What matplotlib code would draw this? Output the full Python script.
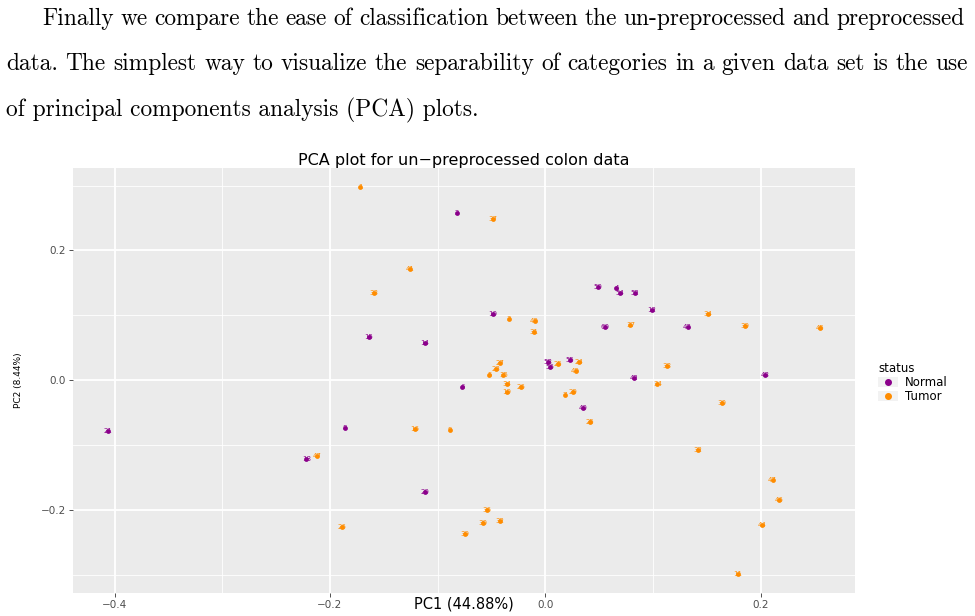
import matplotlib
matplotlib.use("Agg")
import matplotlib.pyplot as plt
from matplotlib.lines import Line2D
from matplotlib.patches import Patch

# PCA scores (PC1, PC2) with sample ids
normal_pc1 = [-0.082, -0.049, 0.049, 0.066, 0.069, 0.083, 0.099, 0.055, 0.132, -0.164,
              -0.112, 0.002, 0.023, 0.004, 0.082, 0.204, -0.077, 0.035, -0.406, -0.186,
              -0.222, -0.112]
normal_pc2 = [0.258, 0.102, 0.143, 0.142, 0.134, 0.134, 0.108, 0.082, 0.082, 0.066,
              0.058, 0.028, 0.031, 0.020, 0.003, 0.008, -0.011, -0.043, -0.078, -0.074,
              -0.122, -0.172]
normal_ids = ["2", "10", "50", "4", "54", "52", "12", "60", "43", "15",
              "14", "58", "55", "56", "42", "48", "6", "40", "21", "8",
              "18", "20"]

tumor_pc1 = [-0.172, -0.049, -0.126, -0.159, -0.034, -0.010, -0.011, 0.079, 0.151, 0.185,
             0.255, -0.042, 0.012, 0.031, -0.046, 0.028, 0.113, -0.052, -0.039, -0.036,
             -0.023, -0.036, 0.104, 0.026, 0.018, 0.164, 0.041, -0.121, -0.089, -0.212,
             0.142, 0.211, 0.217, 0.201, -0.054, -0.058, -0.042, -0.075, -0.189, 0.179]
tumor_pc2 = [0.297, 0.249, 0.171, 0.134, 0.095, 0.092, 0.074, 0.085, 0.102, 0.083,
             0.080, 0.026, 0.025, 0.028, 0.017, 0.015, 0.022, 0.008, 0.008, -0.006,
             -0.011, -0.018, -0.005, -0.018, -0.023, -0.035, -0.065, -0.075, -0.077, -0.117,
             -0.108, -0.154, -0.185, -0.223, -0.200, -0.220, -0.217, -0.237, -0.226, -0.298]
tumor_ids = ["1", "37", "41", "33", "3", "49", "31", "37", "34", "39",
             "45", "27", "25", "24", "23", "49", "38", "5", "35", "34",
             "26", "19", "34", "29", "7", "30", "25", "16", "9", "47",
             "32", "47", "46", "44", "36", "30", "32", "39", "26", "11"]

paragraph = [
    "Finally we compare the ease of classification between the un-preprocessed and preprocessed",
    "data. The simplest way to visualize the separability of categories in a given data set is the use",
    "of principal components analysis (PCA) plots.",
]

purple = "#8B008B"
orange = "#FF8C00"

W, H = 975, 616
fig = plt.figure(figsize=(W / 100, H / 100), dpi=100)
renderer = fig.canvas.get_renderer()

# --- paragraph text, justified like the page ---
probe = fig.text(0, 0, paragraph[2], family="cmr10", fontsize=10)
fs = 10 * 474 / probe.get_window_extent(renderer).width
probe.remove()

def put_line(line, x0, x1, base, justify=True):
    if not justify:
        fig.text(x0 / W, 1 - base / H, line, family="cmr10", fontsize=fs, va="baseline")
        return
    words = line.split()
    ts = [fig.text(0, 1 - base / H, w, family="cmr10", fontsize=fs, va="baseline") for w in words]
    widths = [t.get_window_extent(renderer).width for t in ts]
    gap = (x1 - x0 - sum(widths)) / (len(words) - 1)
    x = x0
    for t, w in zip(ts, widths):
        t.set_x(x / W)
        x += w + gap

put_line(paragraph[0], 42, 965, 25)
put_line(paragraph[1], 6, 968, 70)
put_line(paragraph[2], 6, 0, 116, justify=False)

# --- PCA panel ---
ax = fig.add_axes([73 / W, 1 - 593 / H, (855 - 73) / W, (593 - 168) / H])
ax.set_facecolor("#EBEBEB")
for s in ax.spines.values():
    s.set_visible(False)

ax.set_xlim(-0.4386, 0.2875)
ax.set_ylim(-0.3277, 0.327)
ax.set_xticks([-0.4, -0.2, 0.0, 0.2])
ax.set_xticklabels(["\u22120.4", "\u22120.2", "0.0", "0.2"])
ax.set_yticks([-0.2, 0.0, 0.2])
ax.set_yticklabels(["\u22120.2", "0.0", "0.2"])
ax.set_xticks([-0.3, -0.1, 0.1], minor=True)
ax.set_yticks([-0.3, -0.1, 0.1, 0.3], minor=True)
ax.tick_params(which="major", length=3, width=0.6, color="#333333",
               labelcolor="#4D4D4D", labelsize=7.5, pad=2)
ax.tick_params(which="minor", length=0)
ax.grid(which="major", color="white", lw=1.3)
ax.grid(which="minor", color="white", lw=0.6)
ax.set_axisbelow(True)

ax.scatter(normal_pc1, normal_pc2, s=12, color=purple, zorder=3, linewidths=0)
ax.scatter(tumor_pc1, tumor_pc2, s=12, color=orange, zorder=3, linewidths=0)
for x, y, t in zip(normal_pc1, normal_pc2, normal_ids):
    ax.text(x, y, t, color=purple, fontsize=5, ha="center", va="center", zorder=4)
for x, y, t in zip(tumor_pc1, tumor_pc2, tumor_ids):
    ax.text(x, y, t, color=orange, fontsize=5, ha="center", va="center", zorder=4)

fig.text(464 / W, 1 - 160 / H, "PCA plot for un\u2212preprocessed colon data",
         ha="center", va="center", fontsize=11.5)
fig.text(464 / W, 1 - 604 / H, "PC1 (44.88%)", ha="center", va="center", fontsize=10.5)
fig.text(18 / W, 1 - 380 / H, "PC2 (8.44%)", ha="center", va="center",
         rotation=90, fontsize=6.5)

key = dict(facecolor="#F2F2F2", edgecolor="none")
handles = [(Patch(**key), Line2D([], [], ls="none", marker="o", ms=4, color=purple)),
           (Patch(**key), Line2D([], [], ls="none", marker="o", ms=4, color=orange))]
leg = ax.legend(handles, ["Normal", "Tumor"], title="status",
                loc="upper left", bbox_to_anchor=(878 / W, 1 - 362 / H),
                bbox_transform=fig.transFigure, frameon=False,
                fontsize=8.5, title_fontsize=8.5, alignment="left",
                handlelength=1.7, handleheight=0.9, handletextpad=0.6,
                labelspacing=0.1, borderpad=0, borderaxespad=0)

fig.savefig("out.png", dpi=100)
